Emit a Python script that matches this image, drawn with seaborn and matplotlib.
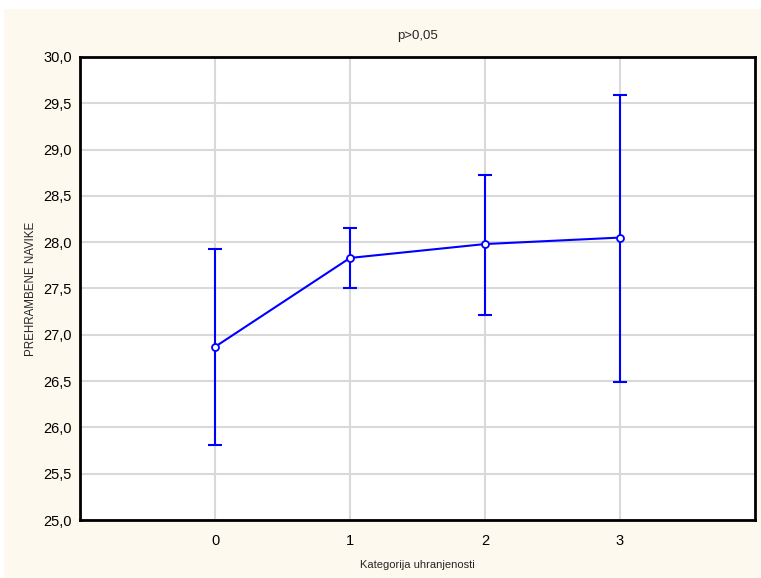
import numpy as np
import pandas as pd
import matplotlib
matplotlib.use("Agg")
import matplotlib.pyplot as plt
import seaborn as sns
from matplotlib.patches import Rectangle
from matplotlib.ticker import FuncFormatter

categories = [0, 1, 2, 3]
means = [26.87, 27.83, 27.98, 28.05]
upper = [27.93, 28.15, 28.73, 29.59]
lower = [25.81, 27.51, 27.21, 26.49]

sns.set_style("white")
plt.rcParams['font.family'] = ['Liberation Sans', 'DejaVu Sans']

df = pd.DataFrame({'kat': categories, 'mean': means})

fig = plt.figure(figsize=(7.61, 5.78), dpi=100, facecolor='white')
# cream panel behind the chart
fig.patches.append(Rectangle((4 / 761, 0), 1, 1 - 9 / 578, transform=fig.transFigure,
                             facecolor='#fdf9ee', edgecolor='none', zorder=-1))
ax = fig.add_axes([80 / 761, 1 - 520 / 578, 675 / 761, 463 / 578])
ax.set_facecolor('white')

ax.grid(True, color='#d9d9d9', linewidth=1.5)
ax.set_axisbelow(True)

yerr = [np.array(means) - np.array(lower), np.array(upper) - np.array(means)]
ax.errorbar(df['kat'], df['mean'], yerr=yerr, fmt='none', ecolor='#0000ff',
            elinewidth=1.5, capsize=4.8, capthick=1.5, zorder=3)
sns.lineplot(data=df, x='kat', y='mean', ax=ax, color='#0000ff', linewidth=1.5,
             marker='o', markersize=5, markerfacecolor='white',
             markeredgecolor='#0000ff', markeredgewidth=1.3, zorder=4)

ax.set_xlim(-1, 4)
ax.set_ylim(25, 30)
ax.set_xticks(categories)
ax.set_yticks(np.arange(25, 30.01, 0.5))
ax.yaxis.set_major_formatter(FuncFormatter(lambda v, p: f'{v:.1f}'.replace('.', ',')))
ax.tick_params(direction='in', length=3, width=1.2, labelsize=10.5, colors='black')
ax.tick_params(axis='x', pad=10)
ax.tick_params(axis='y', pad=6)

for s in ax.spines.values():
    s.set_color('black')
    s.set_linewidth(2)

ax.set_title('p>0,05', fontsize=9.5, pad=13)
ax.set_xlabel('Kategorija uhranjenosti', fontsize=8, labelpad=9)
ax.set_ylabel('PREHRAMBENE NAVIKE', fontsize=8.3, labelpad=4)

fig.savefig('out.png', dpi=100, facecolor=fig.get_facecolor())
